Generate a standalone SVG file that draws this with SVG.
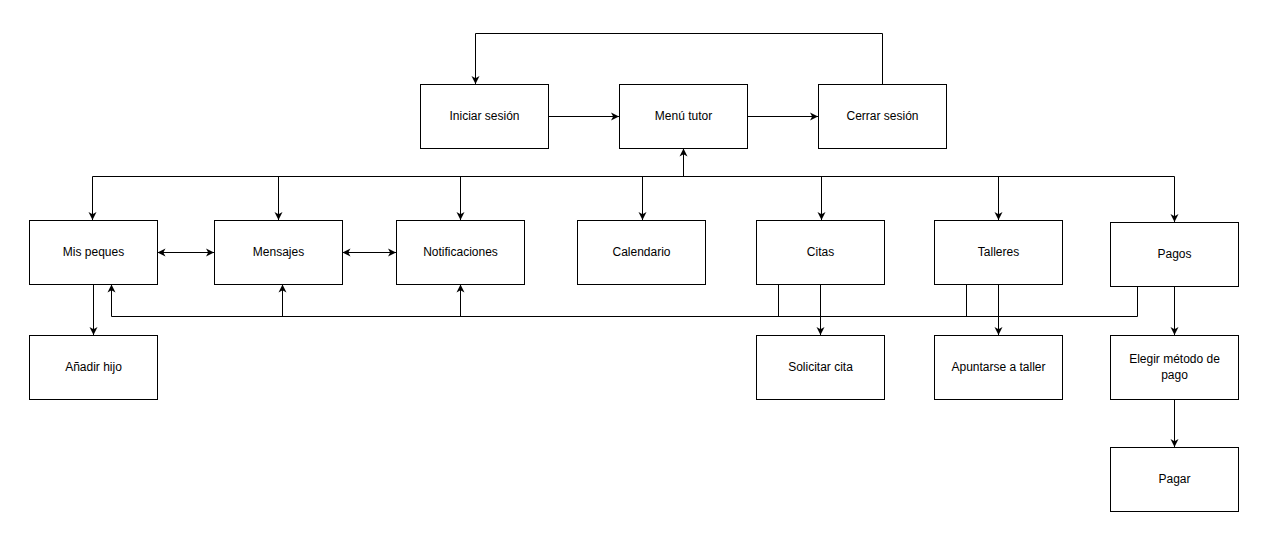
<svg xmlns="http://www.w3.org/2000/svg" width="1273" height="536" viewBox="0 0 1273 536">
<style>
.box{fill:#fff;stroke:#000;stroke-width:1}
.lbl{font-family:"Liberation Sans",Arial,sans-serif;font-size:12px;fill:#000;text-anchor:middle;dominant-baseline:central}
.c{fill:none;stroke:#000;stroke-width:1}
.a{marker-end:url(#arr)}
.b{marker-start:url(#arr);marker-end:url(#arr)}
</style>
<defs>
<marker id="arr" markerUnits="userSpaceOnUse" markerWidth="10" markerHeight="10" refX="8" refY="4" orient="auto-start-reverse" viewBox="0 0 10 8">
<path d="M0,0 L8,4 L0,8 L2.2,4 Z" fill="#000"/>
</marker>
</defs>
<rect width="1273" height="536" fill="#fff"/>
<g id="connectors">
<path class="c a" d="M548.5,116.5 H619"/>
<path class="c a" d="M747.5,116.5 H818"/>
<path class="c a" d="M882.5,84 V33.5 H475.5 V84"/>
<path class="c a" d="M683.5,176.5 V148.5"/>
<path class="c" d="M92.5,176.5 H1174.5"/>
<path class="c a" d="M92.5,176.5 V220"/>
<path class="c a" d="M278.5,176.5 V220"/>
<path class="c a" d="M460.5,176.5 V220"/>
<path class="c a" d="M642.5,176.5 V220"/>
<path class="c a" d="M821.5,176.5 V220"/>
<path class="c a" d="M998.5,176.5 V220"/>
<path class="c a" d="M1174.5,176.5 V222"/>
<path class="c b" d="M157.5,252.5 H214"/>
<path class="c b" d="M342.5,252.5 H396"/>
<path class="c a" d="M93.5,284.5 V335"/>
<path class="c" d="M778.5,284.5 V316.5 M966.5,284.5 V316.5 M1137.5,286.5 V316.5 M1137.5,316.5 H111.5"/>
<path class="c a" d="M111.5,316.5 V284.5"/>
<path class="c a" d="M282.5,316.5 V284.5"/>
<path class="c a" d="M460.5,316.5 V284.5"/>
<path class="c a" d="M820.5,284.5 V335"/>
<path class="c a" d="M998.5,284.5 V335"/>
<path class="c a" d="M1174.5,286.5 V335"/>
<path class="c a" d="M1174.5,399.5 V447"/>
</g>
<g id="iniciar"><rect class="box" x="420.5" y="84.5" width="128" height="64"/><text class="lbl" x="484.5" y="115.5">Iniciar sesión</text></g>
<g id="menu"><rect class="box" x="619.5" y="84.5" width="128" height="64"/><text class="lbl" x="683.5" y="115.5">Menú tutor</text></g>
<g id="cerrar"><rect class="box" x="818.5" y="84.5" width="128" height="64"/><text class="lbl" x="882.5" y="115.5">Cerrar sesión</text></g>
<g id="mispeques"><rect class="box" x="29.5" y="220.5" width="128" height="64"/><text class="lbl" x="93.5" y="251.5">Mis peques</text></g>
<g id="mensajes"><rect class="box" x="214.5" y="220.5" width="128" height="64"/><text class="lbl" x="278.5" y="251.5">Mensajes</text></g>
<g id="notificaciones"><rect class="box" x="396.5" y="220.5" width="128" height="64"/><text class="lbl" x="460.5" y="251.5">Notificaciones</text></g>
<g id="calendario"><rect class="box" x="577.5" y="220.5" width="128" height="64"/><text class="lbl" x="641.5" y="251.5">Calendario</text></g>
<g id="citas"><rect class="box" x="756.5" y="220.5" width="128" height="64"/><text class="lbl" x="820.5" y="251.5">Citas</text></g>
<g id="talleres"><rect class="box" x="934.5" y="220.5" width="128" height="64"/><text class="lbl" x="998.5" y="251.5">Talleres</text></g>
<g id="pagos"><rect class="box" x="1110.5" y="222.5" width="128" height="64"/><text class="lbl" x="1174.5" y="253.5">Pagos</text></g>
<g id="anadir"><rect class="box" x="29.5" y="335.5" width="128" height="64"/><text class="lbl" x="93.5" y="366.5">Añadir hijo</text></g>
<g id="solicitar"><rect class="box" x="756.5" y="335.5" width="128" height="64"/><text class="lbl" x="820.5" y="366.5">Solicitar cita</text></g>
<g id="apuntarse"><rect class="box" x="934.5" y="335.5" width="128" height="64"/><text class="lbl" x="998.5" y="366.5">Apuntarse a taller</text></g>
<g id="elegir"><rect class="box" x="1110.5" y="335.5" width="128" height="64"/><text class="lbl" x="1174.5" y="358.5">Elegir método de</text><text class="lbl" x="1174.5" y="374.5">pago</text></g>
<g id="pagar"><rect class="box" x="1110.5" y="447.5" width="128" height="64"/><text class="lbl" x="1174.5" y="478.5">Pagar</text></g>
</svg>
